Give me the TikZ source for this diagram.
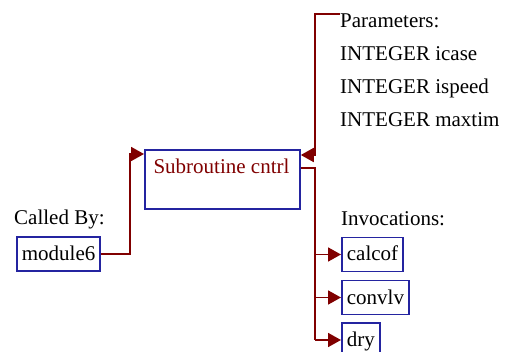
\documentclass[tikz,border=0pt]{standalone}
\usepackage{fontspec}
\setmainfont{Liberation Serif}
\usetikzlibrary{arrows.meta, positioning}
\definecolor{linkred}{HTML}{800000}
\definecolor{boxblue}{HTML}{2424A0}

\begin{document}
\begin{tikzpicture}[x=1pt, y=-1pt, >={Triangle[length=13pt, width=14pt]},
    font=\fontsize{21}{25}\selectfont,
    every node/.style={inner sep=0pt},
    box/.style={draw=boxblue, line width=1.8pt, rectangle, inner xsep=5pt,
                minimum height=34pt, text height=15pt, text depth=2pt},
    link/.style={draw=linkred, line width=1.8pt},
    label/.style={anchor=base west}]
    \useasboundingbox (0,0) rectangle (513,352);

    % the routine itself
    \node[box, anchor=north west, minimum width=155pt, minimum height=59pt] (cntrl) at (144,149) {};
    \node[label, anchor=base, text=linkred] (title) at (221.5,174) {Subroutine cntrl};

    % callers
    \node[label] (calledby) at (14,225) {Called By:};
    \node[box, anchor=west] (module6) at (16,254) {module6};

    % arguments
    \node[label] (params) at (340,28) {Parameters:};
    \node[label] (icase) at (340,61) {INTEGER icase};
    \node[label] (ispeed) at (340,94) {INTEGER ispeed};
    \node[label] (maxtim) at (340,127) {INTEGER maxtim};

    % invocations
    \node[label] (invoc) at (341,226) {Invocations:};
    \node[box, anchor=west] (calcof) at (341,254.5) {calcof};
    \node[box, anchor=west] (convlv) at (341,297.5) {convlv};
    \node[box, anchor=west] (dry) at (341,340) {dry};

    \coordinate (callin) at (130,154);
    \coordinate (pjoin) at (315,155);
    \coordinate (trunk) at (315,168);

    \draw[link,->] (module6.east) -| (callin) -- (callin -| cntrl.west);
    \draw[link,->] (params.north west) -| (pjoin) -- (pjoin -| cntrl.east);
    \draw[link] (cntrl.east |- trunk) -- (trunk) -- (trunk |- dry.west);
    \foreach \callee in {calcof, convlv, dry}
        \draw[link,->] (trunk |- \callee.west) -- (\callee.west);
\end{tikzpicture}
\end{document}
